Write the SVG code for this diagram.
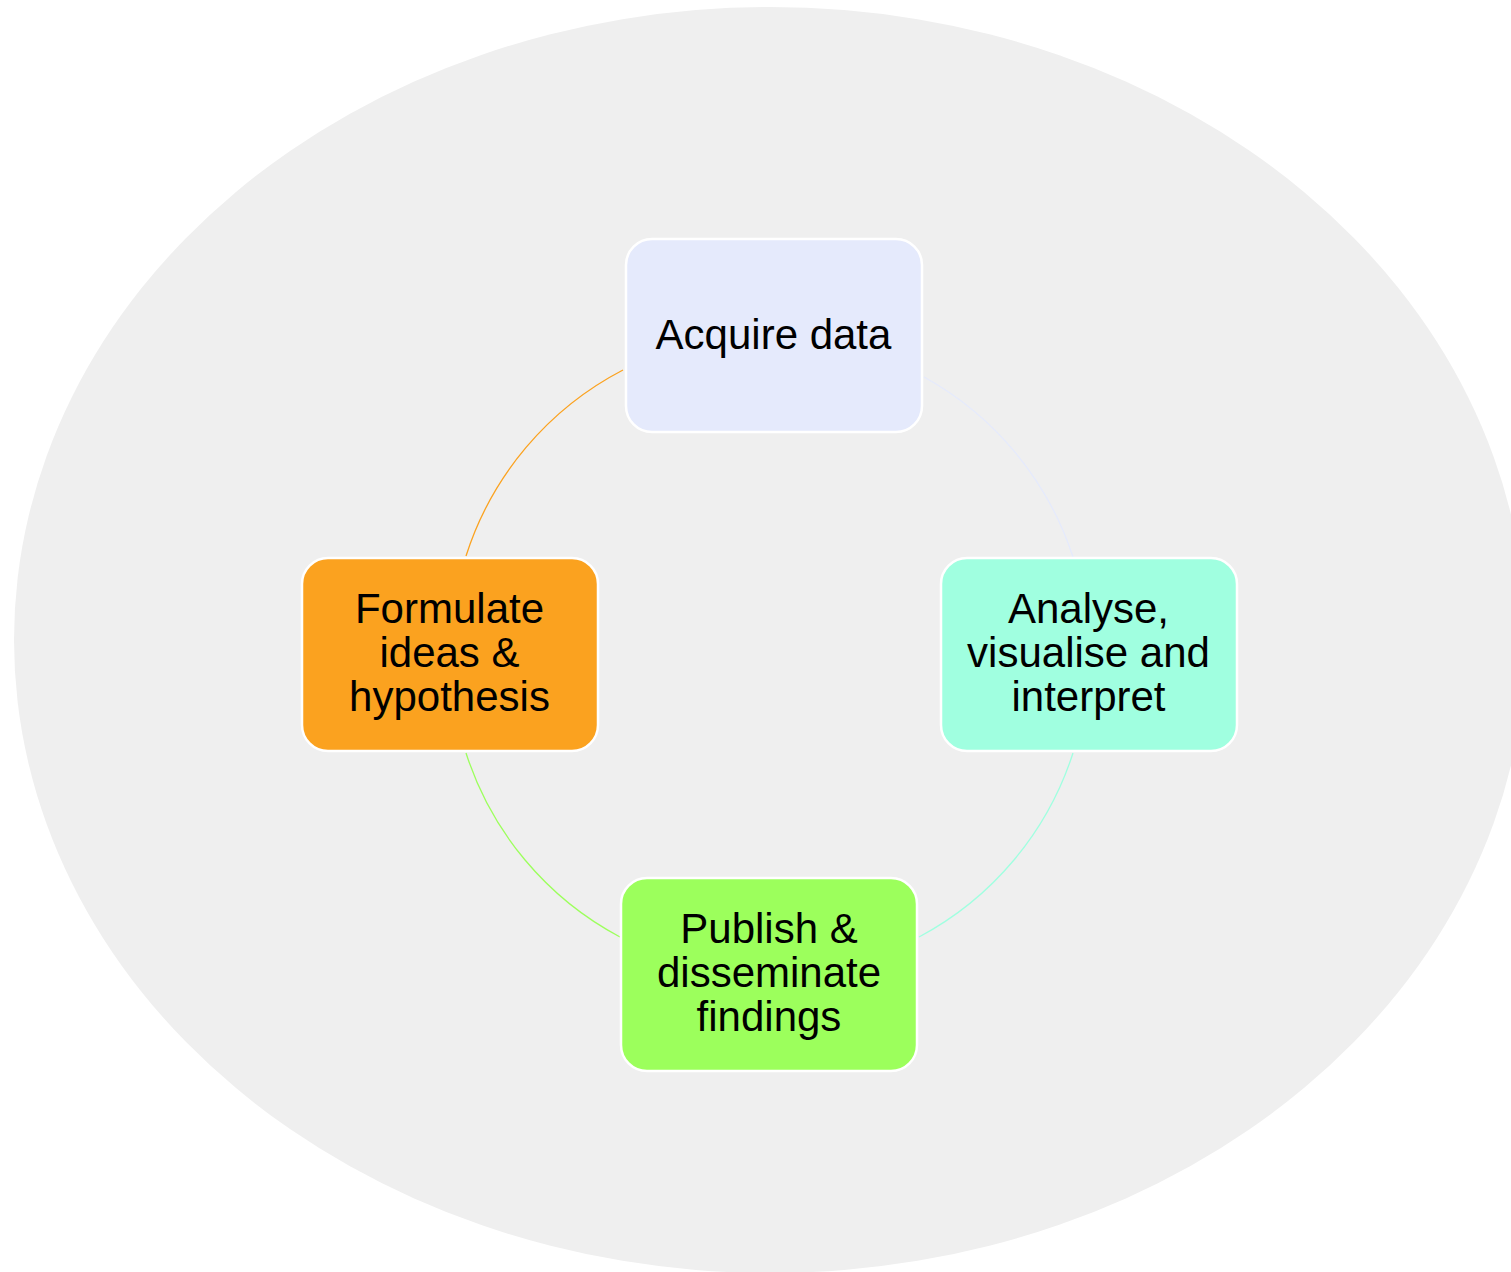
<svg xmlns="http://www.w3.org/2000/svg" width="1511" height="1272" viewBox="0 0 1511 1272">
<style>
.bg{fill:#efefef}
.node rect{stroke:#ffffff;stroke-width:2.5}
.node text{font-family:"Liberation Sans",Arial,sans-serif;font-size:42px;fill:#000;text-anchor:middle}
.edge{fill:none;stroke-width:1.3}
</style>
<rect x="0" y="0" width="1511" height="1272" fill="#ffffff"/>
<ellipse class="bg" cx="770" cy="640" rx="756" ry="633"/>
<g id="connectors">
<path class="edge" stroke="#fba21f" d="M 623 370 A 319 319 0 0 0 466 556"/>
<path class="edge" stroke="#e5eafc" d="M 924 377 A 319 319 0 0 1 1073 557"/>
<path class="edge" stroke="#a0ffe0" d="M 1073 753 A 319 319 0 0 1 919 937"/>
<path class="edge" stroke="#9cff5c" d="M 466 753 A 319 319 0 0 0 620 937"/>
</g>
<g id="acquire" class="node">
<rect x="626" y="239" width="296" height="193" rx="26" fill="#e5eafc"/>
<text x="773.5" y="349">Acquire data</text>
</g>
<g id="analyse" class="node">
<rect x="941" y="558" width="296" height="193" rx="26" fill="#a0ffe0"/>
<text x="1088.5" y="623">Analyse,</text>
<text x="1088.5" y="667">visualise and</text>
<text x="1088.5" y="711">interpret</text>
</g>
<g id="publish" class="node">
<rect x="621" y="878" width="296" height="193" rx="26" fill="#9cff5c"/>
<text x="769" y="943">Publish &amp;</text>
<text x="769" y="987">disseminate</text>
<text x="769" y="1031">findings</text>
</g>
<g id="formulate" class="node">
<rect x="302" y="558" width="296" height="193" rx="26" fill="#fba21f"/>
<text x="449.5" y="623">Formulate</text>
<text x="449.5" y="667">ideas &amp;</text>
<text x="449.5" y="711">hypothesis</text>
</g>
</svg>
